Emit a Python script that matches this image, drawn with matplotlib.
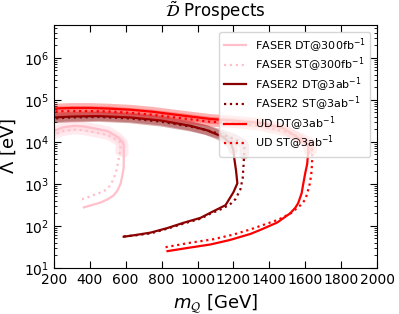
import matplotlib
matplotlib.use("Agg")
import matplotlib.pyplot as plt
import numpy as np

# contours: bottom branch -> right edge -> top branch (m in GeV, Lambda in eV)
faser_dt_m = [367, 420, 461, 500, 533, 555, 572, 583, 589, 590, 588, 583, 555, 500, 422, 360, 311, 250, 200]
faser_dt_lam = [275, 320, 360, 430, 530, 700, 1020, 1700, 2500, 5500, 8500, 9800, 1.3e4, 1.8e4, 2.1e4, 2.35e4, 2.4e4, 2.2e4, 1.8e4]
faser_st_m = [356, 389, 430, 478, 510, 533, 550, 561, 568, 572, 573, 568, 545, 500, 422, 360, 311, 250, 200]
faser_st_lam = [430, 480, 560, 660, 880, 1300, 2200, 3900, 6000, 8000, 9000, 1.0e4, 1.15e4, 1.45e4, 1.7e4, 1.9e4, 1.95e4, 1.8e4, 1.5e4]

faser2_dt_m = [589, 650, 739, 830, 922, 1017, 1072, 1156, 1200, 1222, 1215, 1205, 1200, 1190, 1144, 1050, 961, 800, 628, 450, 300, 200]
faser2_dt_lam = [55, 60, 69, 88, 118, 155, 205, 310, 630, 1030, 2000, 4000, 6300, 8500, 1.3e4, 1.9e4, 2.4e4, 3.2e4, 3.8e4, 4.1e4, 4.0e4, 3.8e4]
faser2_st_m = [589, 650, 739, 830, 922, 1017, 1072, 1128, 1180, 1211, 1239, 1252, 1256, 1260, 1261, 1255, 1200, 1144, 1050, 961, 800, 628, 450, 300, 200]
faser2_st_lam = [56, 59, 66, 85, 113, 148, 195, 245, 320, 430, 740, 1400, 2600, 5000, 7600, 9000, 1.2e4, 1.45e4, 1.9e4, 2.3e4, 3.0e4, 3.6e4, 3.9e4, 3.8e4, 3.6e4]

ud_dt_m = [833, 950, 1072, 1180, 1294, 1350, 1444, 1517, 1545, 1561, 1580, 1589, 1600, 1611, 1617, 1617, 1600, 1572, 1478, 1350, 1200, 1072, 900, 750, 628, 500, 400, 300, 200]
ud_dt_lam = [25, 30, 36, 46, 64, 80, 120, 200, 270, 350, 600, 1000, 1800, 3000, 6300, 8300, 9500, 1.15e4, 2.1e4, 2.8e4, 3.2e4, 3.5e4, 4.3e4, 5.2e4, 5.8e4, 6.2e4, 6.4e4, 6.4e4, 6.2e4]
ud_st_m = [822, 950, 1089, 1200, 1294, 1400, 1450, 1520, 1570, 1600, 1611, 1625, 1633, 1638, 1639, 1639, 1630, 1600, 1500, 1350, 1200, 1072, 900, 750, 628, 500, 400, 300, 200]
ud_st_lam = [31, 39, 48, 62, 82, 118, 140, 200, 300, 420, 590, 1000, 1600, 3000, 6300, 8300, 9500, 1.1e4, 1.7e4, 2.4e4, 2.8e4, 3.0e4, 3.7e4, 4.4e4, 4.9e4, 5.3e4, 5.4e4, 5.4e4, 5.3e4]

band_min = 5e3  # bands only drawn on the upper branch

series = [
    (faser_dt_m, faser_dt_lam, "pink", "-", r"FASER DT@300fb$^{-1}$"),
    (faser_st_m, faser_st_lam, "pink", ":", r"FASER ST@300fb$^{-1}$"),
    (faser2_dt_m, faser2_dt_lam, "darkred", "-", r"FASER2 DT@3ab$^{-1}$"),
    (faser2_st_m, faser2_st_lam, "darkred", ":", r"FASER2 ST@3ab$^{-1}$"),
    (ud_dt_m, ud_dt_lam, "red", "-", r"UD DT@3ab$^{-1}$"),
    (ud_st_m, ud_st_lam, "red", ":", r"UD ST@3ab$^{-1}$"),
]

fig = plt.figure(figsize=(3.99, 3.14), dpi=100)
ax = fig.add_axes([0.135, 0.147, 0.81, 0.773])

for m, lam, c, ls, lab in series:
    m = np.array(m)
    lam = np.array(lam)
    top = lam >= band_min
    ax.plot(m[top], lam[top], color=c, lw=7, alpha=0.3, solid_capstyle="round")
    ax.plot(m, lam, color=c, ls=ls, lw=1.6, label=lab)

ax.set_yscale("log")
ax.set_xlim(200, 2000)
ax.set_ylim(10, 6e6)
ax.set_xticks(np.arange(200, 2001, 200))
ax.tick_params(which="both", direction="in", top=True, right=True, labelsize=10)
ax.tick_params(which="major", length=5)
ax.set_title(r"$\tilde{\mathcal{D}}$ Prospects", fontsize=12)
ax.set_xlabel(r"$m_{\mathcal{Q}}$ [GeV]", fontsize=13)
ax.set_ylabel(r"$\Lambda$ [eV]", fontsize=13)
ax.legend(loc="upper right", fontsize=8, labelspacing=0.1, handlelength=2.0,
          borderaxespad=0.6)
fig.savefig("out.png", dpi=100)
